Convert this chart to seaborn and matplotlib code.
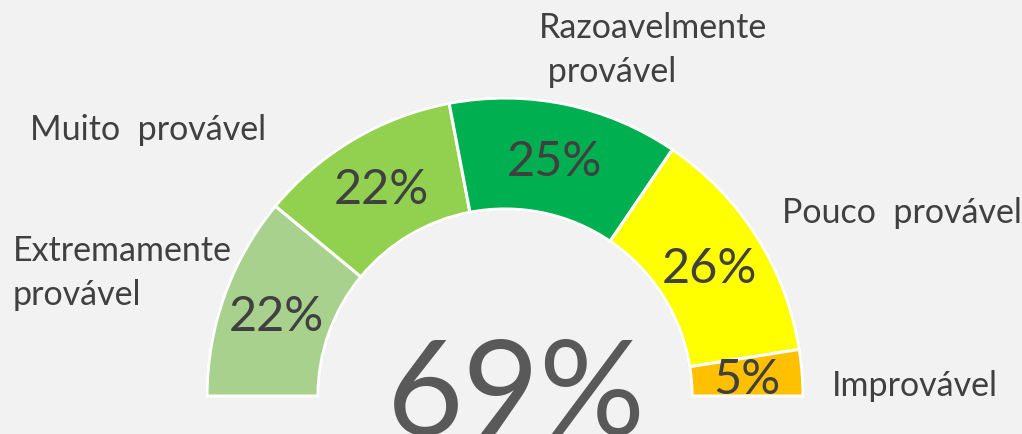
import matplotlib.pyplot as plt
import numpy as np
import seaborn as sns

categories = ["Extremamente\nprovável", "Muito  provável", "Razoavelmente\n provável",
              "Pouco  provável", "Improvável"]
shares = [22, 22, 25, 26, 5]
score = 69
colors = ["#A9D18E", "#92D050", "#00B050", "#FFFF00", "#FFC000"]

# label anchors in pixel space (x, y from top)
label_pos = [(13, 273), (30, 130), (539, 50), (782, 213), (832, 386)]

W, H = 1022, 434
cx, cy = 505, H - 396
r_out, r_in = 298, 187

sns.set_theme(style="white")
plt.rcParams["font.family"] = ["Lato", "DejaVu Sans"]

fig = plt.figure(figsize=(W / 100, H / 100), dpi=100, facecolor="#F2F2F2")
ax = fig.add_axes([0, 0, 1, 1])
ax.set_facecolor("#F2F2F2")

# soft grey rim behind the gauge
ax.pie([1, 1], radius=r_out + 1.5, center=(cx, cy), startangle=0,
       colors=["#D6D6D6", "none"], wedgeprops=dict(width=r_out - r_in + 3, linewidth=0),
       frame=True)

wedges, _ = ax.pie(shares + [sum(shares)], radius=r_out, center=(cx, cy),
                   startangle=180, counterclock=False,
                   colors=colors + ["none"],
                   wedgeprops=dict(width=r_out - r_in, edgecolor="white", linewidth=2.2),
                   frame=True)
wedges[-1].set_edgecolor("none")
ax.set_xlim(0, W)
ax.set_ylim(0, H)
ax.set_aspect("equal")
ax.axis("off")

r_mid = (r_out + r_in) / 2
for w, s in zip(wedges[:-1], shares):
    ang = np.deg2rad((w.theta1 + w.theta2) / 2)
    ax.text(cx + r_mid * np.cos(ang), cy + r_mid * np.sin(ang) - 3, f"{s}%",
            ha="center", va="center", fontsize=35, color="#404040")

for (x, y), name in zip(label_pos, categories):
    ax.text(x, H - y, name, ha="left", va="center", fontsize=24.5, color="#404040",
            linespacing=1.45)

ax.text(516, H - 338, f"{score}%", ha="center", va="top", fontsize=95,
        color="#595959")

fig.savefig("out.png", dpi=100, facecolor="#F2F2F2")
